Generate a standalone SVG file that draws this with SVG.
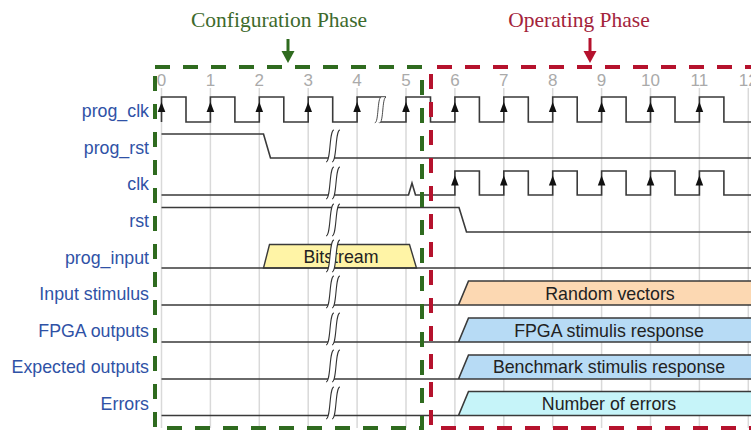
<svg xmlns="http://www.w3.org/2000/svg" width="751" height="430" viewBox="0 0 751 430">
<defs>
<style>
.lbl{font-family:"Liberation Sans",Arial,sans-serif;font-size:17.8px;fill:#2f52a6;text-anchor:end}
.tick{font-family:"Liberation Sans",Arial,sans-serif;font-size:17px;fill:#aaaaaa;text-anchor:middle}
.bus{font-family:"Liberation Sans",Arial,sans-serif;font-size:17.8px;fill:#222;text-anchor:middle}
.title{font-family:"Liberation Serif","Times New Roman",serif;font-size:21.5px;text-anchor:middle}
.grid{stroke:#d9d9d9;stroke-width:1.5}
.wave{fill:none;stroke:#3a3a3a;stroke-width:1.6;stroke-linejoin:miter}
.busshape{stroke:#3a3a3a;stroke-width:1.4}
.brk{fill:none;stroke:#333;stroke-width:1.1}
</style>
<g id="brk">
<path d="M-9,16 C-4,16 -6,-16 -1,-16 L5,-16 C0,-16 2,16 -3,16 Z" fill="#fff" stroke="none"/>
<path class="brk" d="M-9,16 C-4,16 -6,-16 -1,-16"/>
<path class="brk" d="M-3,16 C2,16 0,-16 5,-16"/>
</g>
<polygon id="arr" points="0,0 -3.8,10 3.8,10" fill="#111"/>
</defs>
<rect width="751" height="430" fill="#fff"/>

<g id="grid">
<path class="grid" d="M161.5,88V428M210.4,88V428M259.3,88V428M308.2,88V428M357.1,88V428M406,88V428M454.9,88V428M503.8,88V428M552.7,88V428M601.6,88V428M650.5,88V428M699.4,88V428M748.3,88V428"/>
<text class="tick" x="161.5" y="86">0</text>
<text class="tick" x="210.4" y="86">1</text>
<text class="tick" x="259.3" y="86">2</text>
<text class="tick" x="308.2" y="86">3</text>
<text class="tick" x="357.1" y="86">4</text>
<text class="tick" x="406" y="86">5</text>
<text class="tick" x="454.9" y="86">6</text>
<text class="tick" x="503.8" y="86">7</text>
<text class="tick" x="552.7" y="86">8</text>
<text class="tick" x="601.6" y="86">9</text>
<text class="tick" x="650.5" y="86">10</text>
<text class="tick" x="699.4" y="86">11</text>
<text class="tick" x="748.3" y="86">12</text>
</g>

<g id="labels">
<text class="lbl" x="149" y="117">prog_clk</text>
<text class="lbl" x="149" y="154">prog_rst</text>
<text class="lbl" x="149" y="190">clk</text>
<text class="lbl" x="149" y="227">rst</text>
<text class="lbl" x="149" y="263.5">prog_input</text>
<text class="lbl" x="149" y="300">Input stimulus</text>
<text class="lbl" x="149" y="336.5">FPGA outputs</text>
<text class="lbl" x="149" y="373">Expected outputs</text>
<text class="lbl" x="149" y="409.5">Errors</text>
</g>

<g id="prog_clk">
<path class="wave" d="M161.5,122V97H186V122H210.4V97H234.9V122H259.3V97H283.8V122H308.2V97H332.7V122H357.1V97H386"/>
<path class="wave" d="M378,122H406V97H430.5V122H454.9V97H479.4V122H503.8V97H528.3V122H552.7V97H577.2V122H601.6V97H626.1V122H650.5V97H675V122H699.4V97H723.9V122H751"/>
<use href="#brk" transform="translate(382,110) scale(0.8)"/>
<use href="#arr" x="161.5" y="102"/>
<use href="#arr" x="210.4" y="102"/>
<use href="#arr" x="259.3" y="102"/>
<use href="#arr" x="308.2" y="102"/>
<use href="#arr" x="357.1" y="102"/>
<use href="#arr" x="406" y="102"/>
<use href="#arr" x="454.9" y="102"/>
<use href="#arr" x="503.8" y="102"/>
<use href="#arr" x="552.7" y="102"/>
<use href="#arr" x="601.6" y="102"/>
<use href="#arr" x="650.5" y="102"/>
<use href="#arr" x="699.4" y="102"/>
</g>

<g id="prog_rst">
<path class="wave" d="M161.5,134H263.5L270.5,158H751"/>
<use href="#brk" transform="translate(335,146)"/>
</g>

<g id="clk">
<path class="wave" d="M161.5,195H408.5L412,183L415.5,195H454.9V171H479.4V195H503.8V171H528.3V195H552.7V171H577.2V195H601.6V171H626.1V195H650.5V171H675V195H699.4V171H723.9V195H751"/>
<use href="#brk" transform="translate(335,183)"/>
<use href="#arr" x="454.9" y="175.5"/>
<use href="#arr" x="503.8" y="175.5"/>
<use href="#arr" x="552.7" y="175.5"/>
<use href="#arr" x="601.6" y="175.5"/>
<use href="#arr" x="650.5" y="175.5"/>
<use href="#arr" x="699.4" y="175.5"/>
</g>

<g id="rst">
<path class="wave" d="M161.5,207.5H459L466.5,232H751"/>
<use href="#brk" transform="translate(335,220)"/>
</g>

<g id="prog_input">
<path class="busshape" d="M263.5,268L269.5,244.5H409.5L416.5,268Z" fill="#fff4a6"/>
<path class="wave" d="M161.5,268H751"/>
<text class="bus" x="341" y="263">Bitstream</text>
<use href="#brk" transform="translate(335,256)"/>
</g>

<g id="input_stimulus">
<path d="M458.5,305L468.5,281H752V305Z" fill="#fcd8b2"/>
<path class="wave" d="M161.5,305H751M458.5,305L468.5,281H751"/>
<text class="bus" x="610" y="299.5">Random vectors</text>
<use href="#brk" transform="translate(335,292)"/>
</g>

<g id="fpga_outputs">
<path d="M458.5,342L468.5,318H752V342Z" fill="#b7dbf5"/>
<path class="wave" d="M161.5,342H751M458.5,342L468.5,318H751"/>
<text class="bus" x="609" y="336.5">FPGA stimulis response</text>
<use href="#brk" transform="translate(335,329)"/>
</g>

<g id="expected_outputs">
<path d="M458.5,379L468.5,355H752V379Z" fill="#b7dbf5"/>
<path class="wave" d="M161.5,379H751M458.5,379L468.5,355H751"/>
<text class="bus" x="609" y="373">Benchmark stimulis response</text>
<use href="#brk" transform="translate(335,366)"/>
</g>

<g id="errors">
<path d="M458.5,415.5L468.5,391.5H752V415.5Z" fill="#c6f4f9"/>
<path class="wave" d="M161.5,415.5H751M458.5,415.5L468.5,391.5H751"/>
<text class="bus" x="609" y="409.5">Number of errors</text>
<use href="#brk" transform="translate(335,403)"/>
</g>

<g id="configuration_phase">
<path d="M155,67H422V428H155Z" fill="none" stroke="#2f6b1f" stroke-width="4" stroke-dasharray="15 13"/>
<text class="title" x="279" y="27" fill="#3d6a2c">Configuration Phase</text>
<path d="M288,39V54" stroke="#2f6b1f" stroke-width="3"/>
<polygon points="281.5,51 294.5,51 288,63" fill="#2f6b1f"/>
</g>

<g id="operating_phase">
<path d="M760,67H431V428H760" fill="none" stroke="#b5122d" stroke-width="4" stroke-dasharray="15 13"/>
<text class="title" x="579" y="27" fill="#a3233b">Operating Phase</text>
<path d="M590,38V54" stroke="#b5122d" stroke-width="3"/>
<polygon points="583.5,51 596.5,51 590,63" fill="#b5122d"/>
</g>
</svg>
